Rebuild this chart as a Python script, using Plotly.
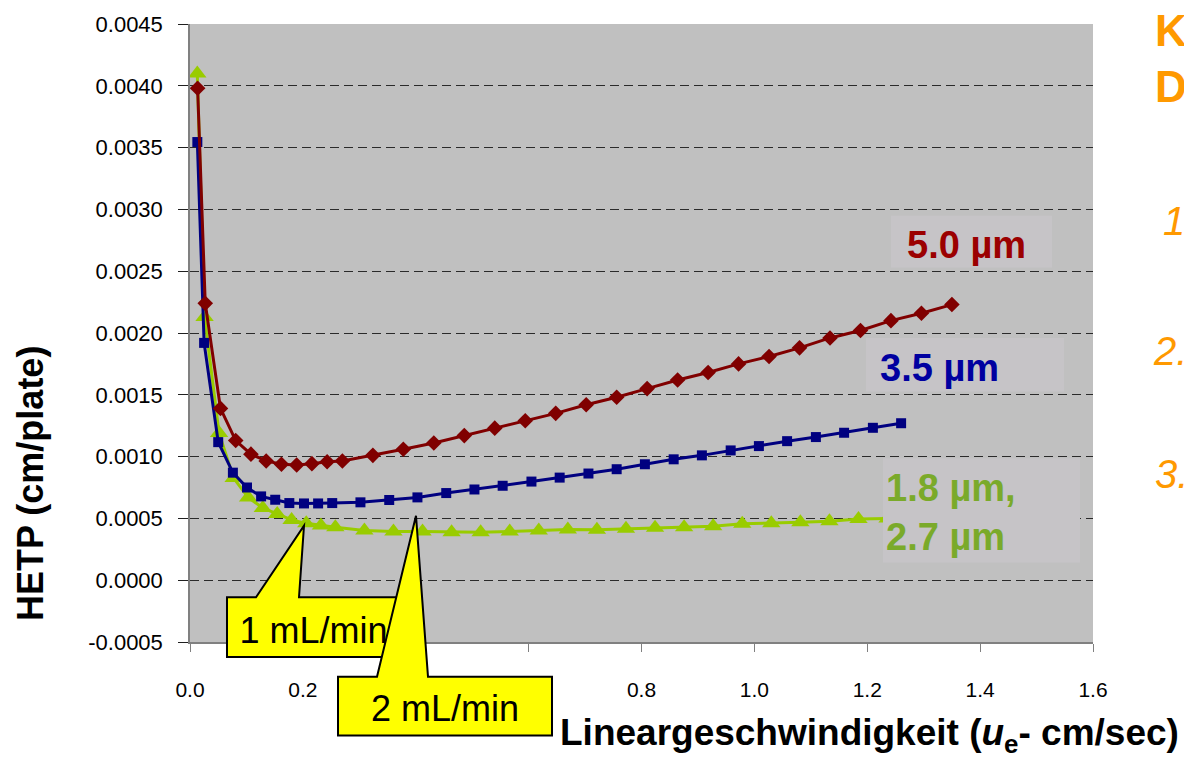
import plotly.graph_objects as go

# Linear velocity u_e (cm/s) and plate height HETP (cm/plate) per particle size
u_50 = [0.0135, 0.027, 0.054, 0.081, 0.108, 0.135, 0.162, 0.189, 0.216, 0.243, 0.270,
        0.324, 0.378, 0.432, 0.486, 0.540, 0.594, 0.648, 0.702, 0.756, 0.810,
        0.864, 0.918, 0.972, 1.026, 1.080, 1.134, 1.188, 1.242, 1.296, 1.350]
h_50 = [0.00398, 0.00224, 0.00139, 0.00113, 0.00102, 0.000965, 0.000938, 0.000932,
        0.000943, 0.000958, 0.000965, 0.00101, 0.00106, 0.00111, 0.00117, 0.00123,
        0.00129, 0.00135, 0.00142, 0.00148, 0.00155, 0.00162, 0.00168, 0.00175,
        0.00181, 0.00188, 0.00196, 0.00202, 0.00210, 0.00216, 0.00223]

u_35 = [0.013, 0.025, 0.050, 0.076, 0.101, 0.126, 0.151, 0.176, 0.202, 0.227, 0.252,
        0.302, 0.353, 0.403, 0.454, 0.504, 0.554, 0.605, 0.655, 0.706, 0.756,
        0.806, 0.857, 0.907, 0.958, 1.008, 1.058, 1.109, 1.159, 1.210, 1.260]
h_35 = [0.003545, 0.00192, 0.001117, 0.00087, 0.00075, 0.000678, 0.000651, 0.000624,
        0.000621, 0.000621, 0.000624, 0.00063, 0.000649, 0.00067, 0.000705, 0.000734,
        0.000764, 0.000798, 0.00083, 0.000863, 0.000898, 0.000938, 0.000978, 0.00101,
        0.00105, 0.001085, 0.001125, 0.001158, 0.001193, 0.001233, 0.00127]

u_18 = [0.0129, 0.0258, 0.0515, 0.0773, 0.103, 0.129, 0.1545, 0.180, 0.206, 0.232, 0.2575,
        0.309, 0.3605, 0.412, 0.4635, 0.515, 0.5665, 0.618, 0.6695, 0.721, 0.7725,
        0.824, 0.8755, 0.927, 0.9785, 1.030, 1.0815, 1.133, 1.1845, 1.236]
h_18 = [0.00410, 0.00213, 0.00119, 0.000826, 0.00067, 0.000584, 0.000536, 0.000488,
        0.00046, 0.000442, 0.000429, 0.000402, 0.000394, 0.000394, 0.000388, 0.000388,
        0.000394, 0.000402, 0.00041, 0.000408, 0.000416, 0.000424, 0.000429, 0.000437,
        0.000456, 0.00046, 0.000469, 0.000477, 0.000496, 0.00050]

x_ticks = [0.0, 0.2, 0.4, 0.6, 0.8, 1.0, 1.2, 1.4, 1.6]
x_tick_labels = ["0.0", "0.2", "0.4", "0.6", "0.8", "1.0", "1.2", "1.4", "1.6"]
y_ticks = [-0.0005, 0.0, 0.0005, 0.0010, 0.0015, 0.0020, 0.0025, 0.0030, 0.0035, 0.0040, 0.0045]
y_tick_labels = ["-0.0005", "0.0000", "0.0005", "0.0010", "0.0015", "0.0020",
                 "0.0025", "0.0030", "0.0035", "0.0040", "0.0045"]

size_labels = ["5.0 µm", "3.5 µm", "1.8 µm,<br>2.7 µm"]
flow_labels = ["1 mL/min", "2 mL/min"]

W, H = 1184, 757
L, R, T, B = 190, 1093, 20, 642
ARIAL = "Liberation Sans, Arial, sans-serif"


def fx(p):
    return (p - L) / (R - L)


def fy(p):
    return (B - p) / (B - T)


def poly(points):
    return "M " + " L ".join(f"{fx(a):.5f},{fy(b):.5f}" for a, b in points) + " Z"


fig = go.Figure()
fig.add_trace(go.Scatter(x=u_18, y=h_18, mode="lines+markers", name="1.8/2.7 µm",
                         line=dict(color="#99CC00", width=3),
                         marker=dict(symbol="triangle-up", size=16, color="#99CC00")))
fig.add_trace(go.Scatter(x=u_35, y=h_35, mode="lines+markers", name="3.5 µm",
                         line=dict(color="#000080", width=3),
                         marker=dict(symbol="square", size=10, color="#000080")))
fig.add_trace(go.Scatter(x=u_50, y=h_50, mode="lines+markers", name="5.0 µm",
                         line=dict(color="#800000", width=3),
                         marker=dict(symbol="diamond", size=12, color="#800000")))

shapes = []
# background boxes behind the particle-size labels
for (x0, y0, x1, y1) in [(891, 213, 1052, 265), (866, 336, 1064, 390), (883, 457, 1080, 562)]:
    shapes.append(dict(type="rect", xref="paper", yref="paper", layer="above",
                       x0=fx(x0), x1=fx(x1), y0=fy(y1), y1=fy(y0),
                       fillcolor="#C6C4C7", line=dict(width=0)))

# yellow flow-rate callouts
callouts = [
    ([(227, 597), (256, 597), (304, 525), (299, 597), (400, 597), (400, 657), (227, 657)], flow_labels[0]),
    ([(338, 677), (377, 677), (416, 515), (428, 677), (552, 677), (552, 736), (338, 736)], flow_labels[1]),
]
for pts, txt in callouts:
    shapes.append(dict(type="path", xref="paper", yref="paper", layer="above",
                       path=poly(pts), fillcolor="#FFFF00",
                       line=dict(color="black", width=2),
                       label=dict(text=txt, textposition="bottom center", padding=9,
                                  font=dict(family=ARIAL, size=36, color="black"))))

annotations = []
label_colors = ["#9B0000", "#0000A0", "#7AAA2A"]
label_pos = [(905, 242), (878, 366), (884, 512)]
for txt, col, (ax, ay) in zip(size_labels, label_colors, label_pos):
    annotations.append(dict(text=f"<b>{txt}</b>", xref="paper", yref="paper",
                            x=fx(ax), y=fy(ay), xanchor="left", yanchor="middle",
                            showarrow=False, align="left",
                            font=dict(family=ARIAL, size=38, color=col)))

# side text running off the right edge
for txt, ax, ay, bold in [("K", 1153, 27, True), ("D", 1153, 83, True),
                          ("<i>1.</i>", 1161, 218, False), ("<i>2.</i>", 1151, 349, False),
                          ("<i>3.</i>", 1153, 473, False)]:
    annotations.append(dict(text=f"<b>{txt}</b>" if bold else txt, xref="paper", yref="paper",
                            x=fx(ax), y=fy(ay), xanchor="left", yanchor="middle",
                            showarrow=False,
                            font=dict(family=ARIAL, size=44 if bold else 40, color="#FF9900")))

annotations.append(dict(text="<b>HETP (cm/plate)</b>", xref="paper", yref="paper",
                        x=fx(30), y=fy(483), xanchor="center", yanchor="middle",
                        textangle=-90, showarrow=False,
                        font=dict(family=ARIAL, size=36, color="black")))
annotations.append(dict(text="<b>Lineargeschwindigkeit (<i>u</i><sub>e</sub>- cm/sec)</b>",
                        xref="paper", yref="paper", x=fx(558), y=fy(736),
                        xanchor="left", yanchor="middle", showarrow=False,
                        font=dict(family=ARIAL, size=37, color="black")))

fig.update_layout(
    width=W, height=H,
    margin=dict(l=L, r=W - R, t=T, b=H - B, pad=0),
    paper_bgcolor="white", plot_bgcolor="#C0C0C0",
    showlegend=False,
    shapes=shapes, annotations=annotations,
)
fig.update_xaxes(range=[0, 1.6], tickvals=x_ticks, ticktext=x_tick_labels,
                 showgrid=False, zeroline=False, showline=True, linecolor="#808080",
                 linewidth=1.5, ticks="outside", ticklen=8, tickcolor="#808080",
                 ticklabelstandoff=20,
                 tickfont=dict(family=ARIAL, size=21, color="black"))
fig.update_yaxes(range=[-0.0005, 0.0045], tickvals=y_ticks, ticktext=y_tick_labels,
                 showgrid=True, gridcolor="#2A2A2A", gridwidth=1, griddash="9px,5px",
                 zeroline=False, showline=True, linecolor="#808080", linewidth=1.5,
                 ticks="outside", ticklen=10, tickcolor="#202020",
                 ticklabelstandoff=11,
                 tickfont=dict(family=ARIAL, size=22, color="black"))

fig.write_html("out.html")
